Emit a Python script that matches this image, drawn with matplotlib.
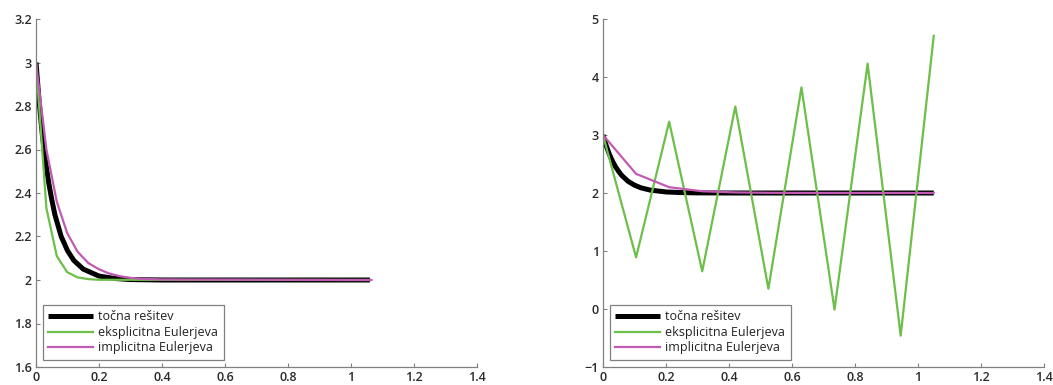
import matplotlib.pyplot as plt

# left panel: small step
t_exact_l = [0, 0.01, 0.02, 0.03, 0.04, 0.05, 0.06, 0.08, 0.10, 0.12, 0.15, 0.20, 0.25, 0.30, 0.40, 1.06]
y_exact_l = [3.0, 2.82, 2.67, 2.55, 2.45, 2.37, 2.30, 2.20, 2.135, 2.09, 2.05, 2.018, 2.007, 2.002, 2.0, 2.0]
t_expl_l = [0, 0.033, 0.066, 0.099, 0.132, 0.166, 0.20, 1.06]
y_expl_l = [3.0, 2.33, 2.11, 2.036, 2.012, 2.004, 2.001, 2.0]
t_impl_l = [0, 0.033, 0.066, 0.099, 0.132, 0.166, 0.199, 0.232, 0.265, 0.298, 0.331, 0.40, 1.065]
y_impl_l = [3.0, 2.6, 2.36, 2.216, 2.13, 2.078, 2.05, 2.03, 2.018, 2.01, 2.006, 2.002, 2.0]

# right panel: large step
t_exact_r = [0, 0.01, 0.02, 0.03, 0.04, 0.05, 0.06, 0.08, 0.10, 0.12, 0.15, 0.20, 0.25, 0.30, 0.40, 1.05]
y_exact_r = y_exact_l
t_expl_r = [0, 0.105, 0.21, 0.315, 0.42, 0.525, 0.63, 0.735, 0.84, 0.945, 1.05]
y_expl_r = [3.0, 0.89, 3.23, 0.65, 3.49, 0.35, 3.82, -0.01, 4.23, -0.46, 4.71]
t_impl_r = [0, 0.105, 0.21, 0.315, 0.42, 0.525, 0.63, 1.05]
y_impl_r = [3.0, 2.33, 2.10, 2.03, 2.01, 2.003, 2.001, 2.0]

labels = ['točna rešitev', 'eksplicitna Eulerjeva', 'implicitna Eulerjeva']
green, magenta = '#6cbf48', '#c05ab2'

plt.rcParams['font.family'] = ['Open Sans', 'DejaVu Sans']

fig = plt.figure(figsize=(10.53, 3.85), dpi=100)
ax_l = fig.add_axes([36/1053, 18/385, 441/1053, 348/385])
ax_r = fig.add_axes([603/1053, 18/385, 441/1053, 348/385])

panels = [
    (ax_l, t_exact_l, y_exact_l, t_expl_l, y_expl_l, t_impl_l, y_impl_l, (1.6, 3.2), [1.6, 1.8, 2, 2.2, 2.4, 2.6, 2.8, 3, 3.2]),
    (ax_r, t_exact_r, y_exact_r, t_expl_r, y_expl_r, t_impl_r, y_impl_r, (-1, 5), [-1, 0, 1, 2, 3, 4, 5]),
]

for ax, te, ye, tx, yx, ti, yi, ylim, yticks in panels:
    ax.plot(te, ye, color='black', lw=3.6, label=labels[0], solid_capstyle='butt')
    ax.plot(tx, yx, color=green, lw=1.6, label=labels[1])
    ax.plot(ti, yi, color=magenta, lw=1.6, label=labels[2])
    ax.set_xlim(0, 1.4)
    ax.set_ylim(*ylim)
    ax.set_xticks([0, 0.2, 0.4, 0.6, 0.8, 1, 1.2, 1.4])
    ax.set_xticklabels(['0', '0.2', '0.4', '0.6', '0.8', '1', '1.2', '1.4'])
    ax.set_yticks(yticks)
    ax.set_yticklabels([f'{v:g}'.replace('-', '\u2212') for v in yticks])
    for lab in ax.get_xticklabels() + ax.get_yticklabels():
        lab.set_fontweight('semibold')
    ax.spines['top'].set_visible(False)
    ax.spines['right'].set_visible(False)
    for s in ('left', 'bottom'):
        ax.spines[s].set_color('#808080')
        ax.spines[s].set_linewidth(0.9)
    ax.tick_params(direction='in', length=3, width=0.8, color='#808080',
                   labelsize=9, labelcolor='#2a2a2a', pad=3)
    leg = ax.legend(loc='lower left', bbox_to_anchor=(0.015, 0.02), borderaxespad=0,
                    fontsize=9, handlelength=3.6, handletextpad=0.4, borderpad=0.45,
                    labelspacing=0.2, fancybox=False, framealpha=1)
    leg.get_frame().set_edgecolor('#808080')
    leg.get_frame().set_linewidth(0.9)
    for txt in leg.get_texts():
        txt.set_color('#222222')

fig.savefig('out.png', dpi=100)
